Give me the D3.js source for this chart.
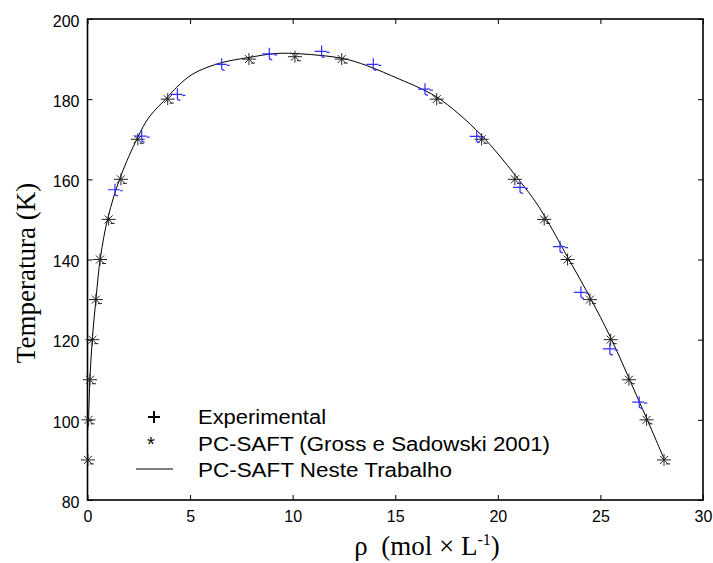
<!DOCTYPE html>
<html>
<head>
<meta charset="utf-8">
<script src="https://cdn.jsdelivr.net/npm/d3@7"></script>
<style>
  body { margin: 0; background: #fff; }
  svg { display: block; }
  .tick-label { font-family: "Liberation Sans", Arial, sans-serif; font-size: 16px; fill: #000; }
  .legend-text { font-family: "Liberation Sans", Arial, sans-serif; font-size: 20px; fill: #000; }
  .axis-title { font-family: "Liberation Serif", "Times New Roman", serif; font-size: 27px; fill: #000; white-space: pre; }
</style>
</head>
<body>
<div id="chart"></div>
<script>
// PC-SAFT (Gross e Sadowski 2001) points
const rhoGross = [0.02, 0.05, 0.12, 0.24, 0.41, 0.61, 1.03, 1.63, 2.45, 3.91, 7.87, 10.11,
  12.39, 17.02, 19.21, 20.83, 22.26, 23.4, 24.49, 25.5, 26.39, 27.25, 28.1];
const tGross = [90, 100, 110, 120, 130, 140, 150, 160, 170, 180, 190, 190.6,
  190, 180, 170, 160, 150, 140, 130, 120, 110, 100, 90];

// experimental points
const rhoExp = [1.34, 2.64, 4.38, 6.54, 8.86, 11.41, 13.93, 16.45, 18.97, 21.08, 23.03, 24.05, 25.46, 26.89];
const tExp = [157.4, 170.8, 181.2, 188.7, 191.3, 191.9, 188.7, 182.5, 170.7, 158.0, 143.2, 131.8, 117.7, 104.4];

// PC-SAFT neste trabalho (curve)
const rhoLine = [0.0, 0.05, 0.12, 0.24, 0.42, 0.63, 1.0, 1.6, 2.45, 3.0, 3.9, 4.35, 5.14, 6.46, 7.87,
  9.2, 10.4, 12.4, 13.6, 15.2, 16.1, 17.0, 18.1, 19.2, 20.1, 20.85, 21.7, 22.26, 23.4, 24.49, 25.5, 26.39, 27.25, 28.1];
const tLine = [97, 100.5, 110.5, 120.5, 130.5, 140.5, 150.5, 160.5, 170.5, 175.5, 180.5, 183, 186.3, 189, 190.4,
  191.4, 191.3, 190.2, 188.4, 185.0, 183.0, 180.6, 176.3, 171.0, 165.8, 161.0, 155.4, 151.0, 140.6, 130.6, 120.5, 110.4, 100.4, 90.3];

const xTicks = [0, 5, 10, 15, 20, 25, 30];
const yTicks = [80, 100, 120, 140, 160, 180, 200];

const legendLabels = ['Experimental', 'PC-SAFT (Gross e Sadowski 2001)', 'PC-SAFT Neste Trabalho'];

const width = 713, height = 563;
const margin = { left: 87.5, right: 10, top: 19, bottom: 63 };

const svg = d3.select('#chart').append('svg')
  .attr('width', width)
  .attr('height', height);

const x = d3.scaleLinear().domain([0, 30]).range([margin.left, width - margin.right]);
const y = d3.scaleLinear().domain([80, 200]).range([height - margin.bottom, margin.top]);

const tickLen = 5;

// inward ticks on every side, matlab style
svg.append('g')
  .attr('transform', `translate(0, ${y(80)})`)
  .call(d3.axisBottom(x).tickValues(xTicks).tickSize(-tickLen).tickPadding(11).tickFormat(d3.format('d')))
  .call(g => g.select('.domain').remove())
  .call(g => g.selectAll('text').attr('class', 'tick-label').attr('font-size', null).attr('font-family', null));

svg.append('g')
  .attr('transform', `translate(0, ${y(200)})`)
  .call(d3.axisTop(x).tickValues(xTicks).tickSize(-tickLen).tickFormat(''))
  .call(g => g.select('.domain').remove());

svg.append('g')
  .attr('transform', `translate(${x(0)}, 0)`)
  .call(d3.axisLeft(y).tickValues(yTicks).tickSize(-tickLen).tickPadding(8).tickFormat(d3.format('d')))
  .call(g => g.select('.domain').remove())
  .call(g => g.selectAll('text').attr('class', 'tick-label').attr('font-size', null).attr('font-family', null).attr('dy', '0.45em'));

svg.append('g')
  .attr('transform', `translate(${x(30)}, 0)`)
  .call(d3.axisRight(y).tickValues(yTicks).tickSize(-tickLen).tickFormat(''))
  .call(g => g.select('.domain').remove());

svg.selectAll('.tick line').attr('stroke', '#000').attr('stroke-width', 1);

// box
svg.append('rect')
  .attr('x', x(0)).attr('y', y(200))
  .attr('width', x(30) - x(0)).attr('height', y(80) - y(200))
  .attr('fill', 'none').attr('stroke', '#000').attr('stroke-width', 1.6);

// curve
const line = d3.line().x(d => x(d[0])).y(d => y(d[1])).curve(d3.curveCatmullRom.alpha(0.5));
svg.append('path')
  .datum(d3.zip(rhoLine, tLine))
  .attr('d', line)
  .attr('fill', 'none').attr('stroke', '#000').attr('stroke-width', 1);

// star marker like matlab '*'
const starPath = 'M-7,0H7M0,-6V6M-4,-4L4,4M-4,4L4,-4M2,4H6';
svg.append('g').selectAll('path')
  .data(d3.zip(rhoGross, tGross))
  .join('path')
  .attr('transform', d => `translate(${x(d[0])}, ${y(d[1])})`)
  .attr('d', starPath)
  .attr('fill', 'none').attr('stroke', '#222').attr('stroke-width', 1);

// experimental '+', blue with a little hook
const plusPath = 'M-7,0H5M5,1H8M0,-6V4Q0,6 3,6';
svg.append('g').selectAll('path')
  .data(d3.zip(rhoExp, tExp))
  .join('path')
  .attr('transform', d => `translate(${x(d[0])}, ${y(d[1])})`)
  .attr('d', plusPath)
  .attr('fill', 'none').attr('stroke', '#2f2fff').attr('stroke-width', 1.2);

// legend
const legend = svg.append('g');
const legendX = 198, legendY = [424, 451, 477];
legend.selectAll('text')
  .data(legendLabels)
  .join('text')
  .attr('class', 'legend-text')
  .attr('x', legendX)
  .attr('y', (_, i) => legendY[i])
  .attr('textLength', (_, i) => [128, 352, 254][i])
  .attr('lengthAdjust', 'spacingAndGlyphs')
  .text(d => d);

legend.append('path')
  .attr('transform', 'translate(154, 417)')
  .attr('d', 'M-6,0H6M0,-6V6')
  .attr('stroke', '#000').attr('stroke-width', 2);
legend.append('text')
  .attr('class', 'legend-text')
  .attr('x', 151).attr('y', 451)
  .attr('text-anchor', 'middle')
  .text('*');
legend.append('line')
  .attr('x1', 136).attr('x2', 173).attr('y1', 469).attr('y2', 469)
  .attr('stroke', '#555').attr('stroke-width', 1.5);

// axis titles
const xTitle = svg.append('text')
  .attr('class', 'axis-title')
  .attr('x', 427).attr('y', 555)
  .attr('text-anchor', 'middle');
xTitle.append('tspan').text('ρ  (mol × L');
xTitle.append('tspan').attr('font-size', 16).attr('dy', -10).text('-1');
xTitle.append('tspan').attr('dy', 10).text(')');

svg.append('text')
  .attr('class', 'axis-title')
  .attr('transform', 'translate(35, 273) rotate(-90)')
  .attr('text-anchor', 'middle')
  .text('Temperatura (K)');
</script>
</body>
</html>
